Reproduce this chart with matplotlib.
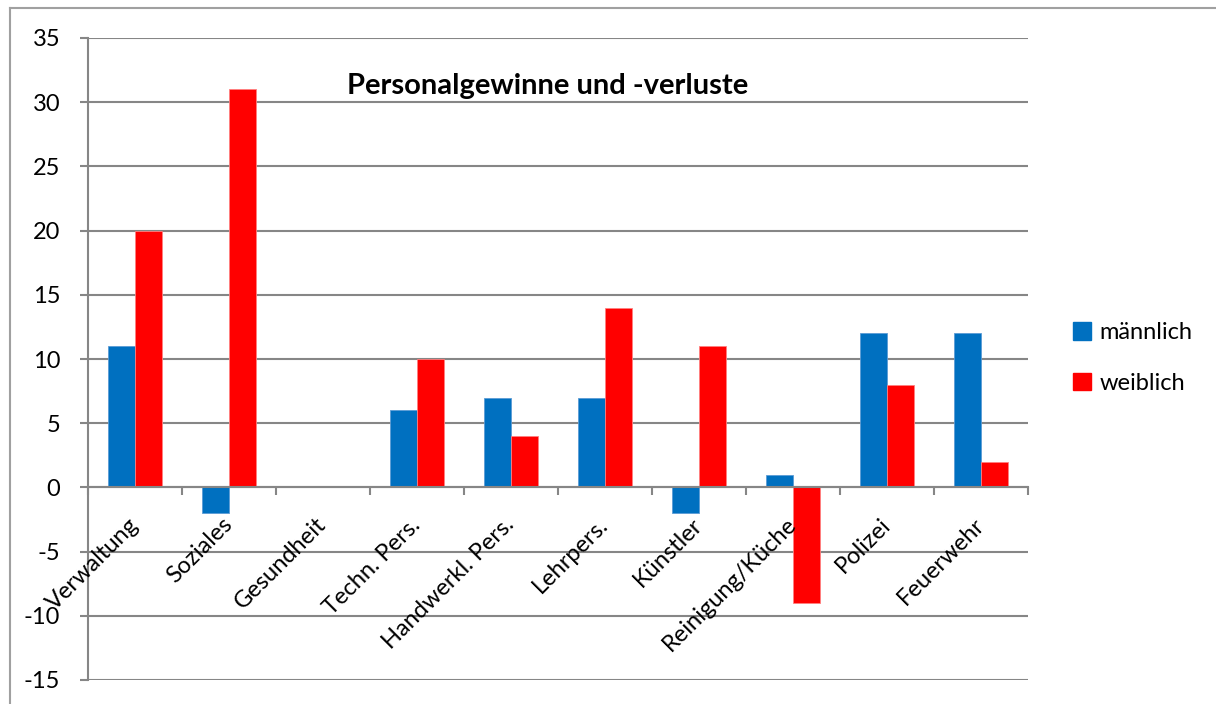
import matplotlib.pyplot as plt
import numpy as np
from matplotlib.lines import Line2D
from matplotlib.patches import Patch
import matplotlib.transforms as mtransforms

"""
Personalgewinne und -verluste, nach Geschlecht
"""

categories = ['Verwaltung', 'Soziales', 'Gesundheit', 'Techn. Pers.',
              'Handwerkl. Pers.', 'Lehrpers.', 'Künstler', 'Reinigung/Küche',
              'Polizei', 'Feuerwehr']
maennlich = [11, -2, 0, 6, 7, 7, -2, 1, 12, 12]
weiblich = [20, 31, 0, 10, 4, 14, 11, -9, 8, 2]
y_ticks = [-15, -10, -5, 0, 5, 10, 15, 20, 25, 30, 35]

plt.rcParams['font.family'] = ['Lato', 'DejaVu Sans']

fig = plt.figure(figsize=(12.16, 7.04), dpi=100)
ax = fig.add_axes([88 / 1216, 24 / 704, 940 / 1216, 642 / 704])

x = np.arange(len(categories))
w = 1 / 3.5
grey = '#868686'

ax.bar(x - w / 2, maennlich, w, color='#0070C0', edgecolor='#5B9BD5', linewidth=0.6,
       label='männlich', zorder=3)
ax.bar(x + w / 2, weiblich, w, color='#FF0000', edgecolor='#FF8080', linewidth=0.6,
       label='weiblich', zorder=3)

ax.set_xlim(-0.5, len(categories) - 0.5)
ax.set_ylim(-15, 35)
ax.set_yticks(y_ticks)
ax.set_yticklabels([str(v) for v in y_ticks], fontsize=17)
ax.yaxis.grid(True, color=grey, linewidth=1.5, zorder=0)
ax.set_axisbelow(True)

# x axis sits on the zero line, ticks between categories
ax.spines['bottom'].set_position(('data', 0))
ax.spines['bottom'].set_color(grey)
ax.spines['bottom'].set_linewidth(1.5)
ax.spines['bottom'].set_zorder(4)
ax.spines['left'].set_color(grey)
ax.spines['left'].set_linewidth(1.5)
ax.spines['top'].set_visible(False)
ax.spines['right'].set_visible(False)

ax.set_xticks(np.arange(len(categories) + 1) - 0.5)
ax.set_xticklabels([])
ax.tick_params(axis='x', direction='out', length=6, width=1.5, color=grey)
ax.tick_params(axis='y', direction='out', length=6, width=1.5, color=grey, pad=14)

# category labels, rotated
offset = mtransforms.ScaledTranslation(0, -34 / 100, fig.dpi_scale_trans)
for i, name in enumerate(categories):
    ax.text(i, 0, name, rotation=45, ha='right', va='center', rotation_mode='anchor',
            fontsize=17, transform=ax.transData + offset)

# Title
fig.text(548 / 1216, 1 - 86 / 704, 'Personalgewinne und -verluste', ha='center',
         va='center', fontsize=21, fontweight='bold')

# Legend
handles = [Patch(facecolor='#0070C0', edgecolor='#0070C0'),
           Patch(facecolor='#FF0000', edgecolor='#FF0000')]
fig.legend(handles, ['männlich', 'weiblich'], loc='center left',
           bbox_to_anchor=(1052 / 1216, 1 - 358 / 704), frameon=False, fontsize=17,
           handlelength=0.75, handleheight=0.75, handletextpad=0.35, labelspacing=1.25)

# outer chart border
fig.add_artist(Line2D([10 / 1216, 10 / 1216], [0, 1 - 8 / 704], color='#A0A0A0',
                      linewidth=1.5, transform=fig.transFigure))
fig.add_artist(Line2D([10 / 1216, 1], [1 - 8 / 704, 1 - 8 / 704], color='#A0A0A0',
                      linewidth=1.5, transform=fig.transFigure))

fig.savefig('out.png', dpi=100)
